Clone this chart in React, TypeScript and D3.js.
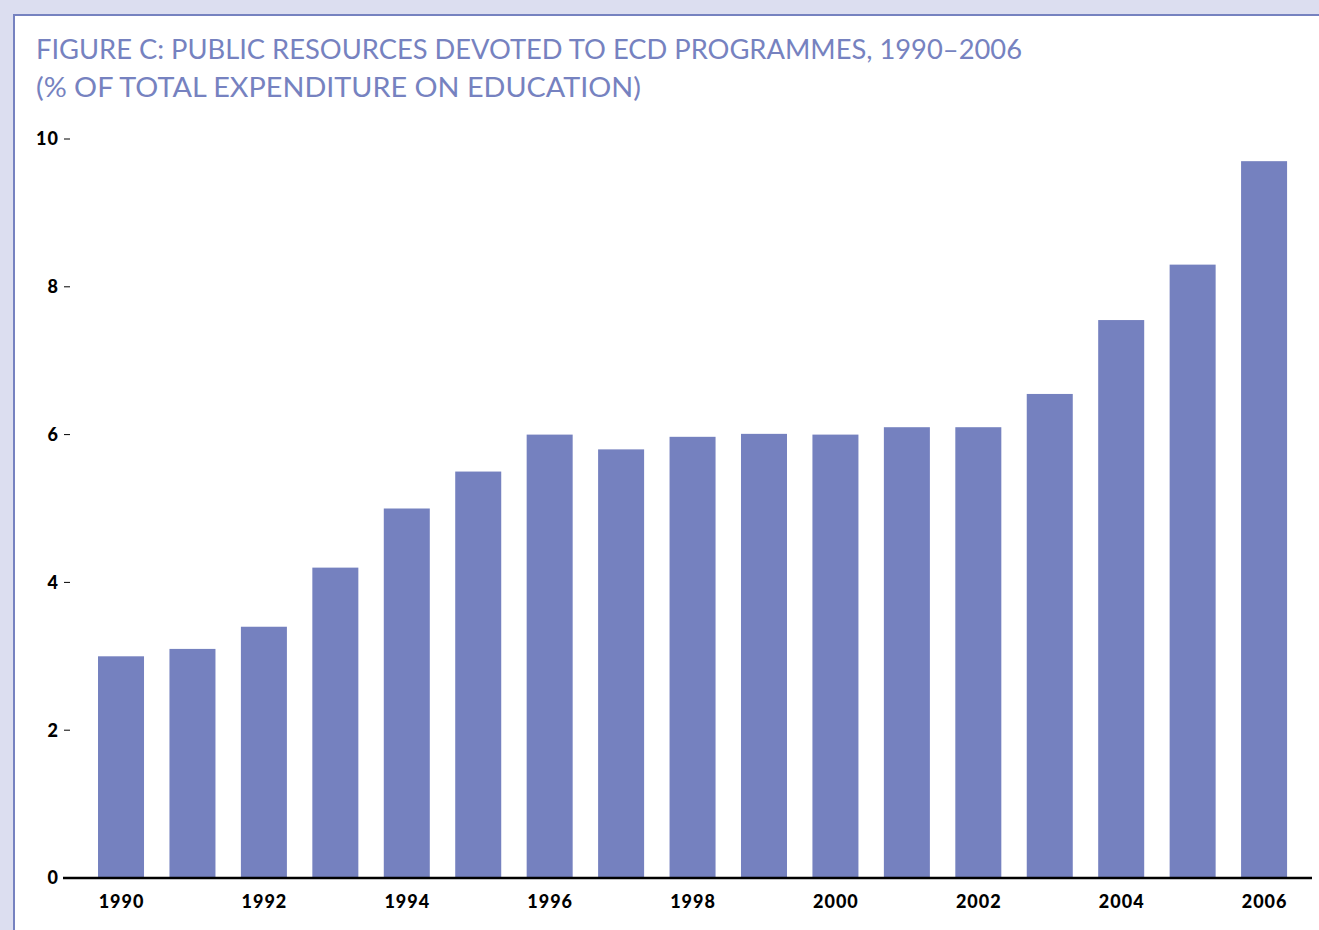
import React from "react";
import * as d3 from "d3";

const years = [1990, 1991, 1992, 1993, 1994, 1995, 1996, 1997, 1998, 1999, 2000, 2001, 2002, 2003, 2004, 2005, 2006];
const values = [3.0, 3.1, 3.4, 4.2, 5.0, 5.5, 6.0, 5.8, 5.97, 6.01, 6.0, 6.1, 6.1, 6.55, 7.55, 8.3, 9.7];
const yTicks = [0, 2, 4, 6, 8, 10];
const xLabelYears = [1990, 1992, 1994, 1996, 1998, 2000, 2002, 2004, 2006];
const titleLines = [
  "FIGURE C: PUBLIC RESOURCES DEVOTED TO ECD PROGRAMMES, 1990–2006",
  "(% OF TOTAL EXPENDITURE ON EDUCATION)",
];

const W = 1319;
const H = 930;
const BAR = "#7581bf";
const TITLE = "#7682c0";

export default function App() {
  const x = d3
    .scaleBand<number>()
    .domain(years)
    .range([85.3, 1299.8])
    .paddingInner(0.356)
    .paddingOuter(0.178);
  const y = d3.scaleLinear().domain([0, 10]).range([878, 139]);
  const font = "'Lato', 'Open Sans', sans-serif";

  return (
    <svg
      width={W}
      height={H}
      style={{ position: "absolute", left: 0, top: 0, display: "block" }}
    >
      <rect x={0} y={0} width={W} height={H} fill="#dcdef0" />
      <rect x={14} y={15} width={W + 20} height={H + 20} fill="#fff" stroke="#7682c0" strokeWidth={2} />
      {titleLines.map((t, i) => (
        <text
          key={i}
          x={36}
          y={59 + i * 38}
          fill={TITLE}
          fontFamily={font}
          fontSize={27}
          textLength={i === 0 ? 986 : 605}
          lengthAdjust="spacingAndGlyphs"
        >
          {t}
        </text>
      ))}
      {years.map((yr, i) => (
        <rect
          key={yr}
          x={x(yr)}
          y={y(values[i])}
          width={x.bandwidth()}
          height={y(0) - y(values[i])}
          fill={BAR}
        />
      ))}
      {yTicks.map((t) => (
        <g key={t}>
          {t !== 0 && (
            <line x1={64} x2={70} y1={y(t)} y2={y(t)} stroke="#000" strokeWidth={1} />
          )}
          <text
            x={59}
            y={y(t)}
            dy="0.36em"
            textAnchor="end"
            fontFamily={font}
            fontWeight={900}
            fontSize={18}
            letterSpacing={1}
            fill="#000"
          >
            {t}
          </text>
        </g>
      ))}
      <line x1={63} x2={1312} y1={y(0)} y2={y(0)} stroke="#000" strokeWidth={2.5} />
      {xLabelYears.map((yr) => (
        <text
          key={yr}
          x={(x(yr) as number) + x.bandwidth() / 2 + 0.5}
          y={908}
          textAnchor="middle"
          fontFamily={font}
          fontWeight={900}
          fontSize={18}
          letterSpacing={1}
          fill="#000"
        >
          {yr}
        </text>
      ))}
    </svg>
  );
}
